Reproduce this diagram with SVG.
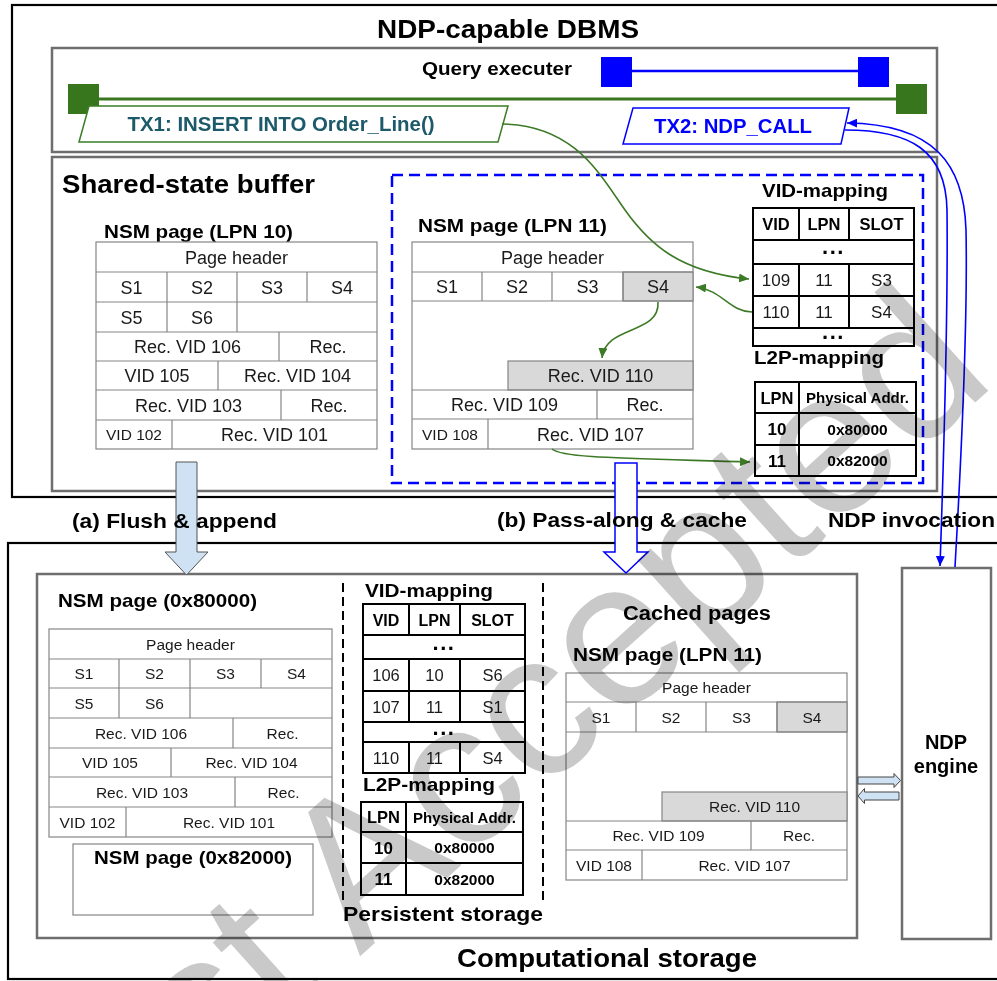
<svg xmlns="http://www.w3.org/2000/svg" width="997" height="981" viewBox="0 0 997 981">
  <defs>
    <style>
      text { font-family: "Liberation Sans", Arial, Helvetica, sans-serif; fill: #000; }
      .b { font-weight: bold; }
      .c { text-anchor: middle; }
      .cellt { fill: #1a1a1a; }
      .dots { font-weight: bold; text-anchor: middle; font-size: 22px; letter-spacing: 1.5px; }
      .frame { fill: none; stroke: #000; stroke-width: 2.2; }
      .panel { fill: none; stroke: #6e6e6e; stroke-width: 2.5; }
      .cell { fill: #fff; stroke: #858585; stroke-width: 1.2; }
      .hl { fill: #d9d9d9; stroke: #858585; stroke-width: 1.2; }
      .grid { fill: none; stroke: #858585; stroke-width: 1.2; }
      .map { fill: #fff; stroke: #000; stroke-width: 2; }
      .mapl { fill: none; stroke: #000; stroke-width: 2; }
      .sep { fill: none; stroke: #000; stroke-width: 2; stroke-dasharray: 9 5; }
      .green { fill: none; stroke: #3d7a26; stroke-width: 1.6; }
      .blue { fill: none; stroke: #0000ff; stroke-width: 1.6; }
      .mark { mix-blend-mode: multiply; }
    </style>
    <marker id="ah-green" markerUnits="userSpaceOnUse" markerWidth="11" markerHeight="9" refX="10" refY="4.5" orient="auto">
      <path d="M0,0 L10,4.5 L0,9 z" fill="#3d7a26"/>
    </marker>
    <marker id="ah-blue" markerUnits="userSpaceOnUse" markerWidth="11" markerHeight="9" refX="10" refY="4.5" orient="auto">
      <path d="M0,0 L10,4.5 L0,9 z" fill="#0000ff"/>
    </marker>
  </defs>

  <rect x="0" y="0" width="997" height="981" fill="#fff"/>

  <!-- DBMS host frame -->
  <g id="dbms">
    <rect class="frame" x="12" y="5" width="992" height="492"/>
    <text class="b c" x="508" y="38" font-size="25.5" textLength="262" lengthAdjust="spacingAndGlyphs">NDP-capable DBMS</text>
  </g>

  <!-- Query executer with the two transactions -->
  <g id="query-executer">
    <rect class="panel" x="52" y="48" width="885" height="104" fill="#fff"/>
    <text class="b c" x="497" y="75" font-size="18" textLength="150" lengthAdjust="spacingAndGlyphs">Query executer</text>
    <line x1="620" y1="71" x2="870" y2="71" stroke="#0000ff" stroke-width="2.5"/>
    <rect x="601" y="57" width="31" height="30" fill="#0000ff"/>
    <rect x="858" y="57" width="31" height="30" fill="#0000ff"/>
    <line x1="90" y1="99" x2="905" y2="99" stroke="#3a761f" stroke-width="3"/>
    <rect x="68" y="84" width="31" height="30" fill="#38761d"/>
    <rect x="896" y="84" width="31" height="30" fill="#38761d"/>
  </g>

  <g id="tx1">
    <polygon points="89,106 508,106 498,142 79,142" fill="#fff" stroke="#3a7d24" stroke-width="1.5"/>
    <text class="b c" x="281" y="131" font-size="20.5" style="fill:#1d5a69" textLength="307" lengthAdjust="spacingAndGlyphs">TX1: INSERT INTO Order_Line()</text>
  </g>

  <g id="tx2">
    <polygon points="633,108 849,108 841,144 623,144" fill="#fff" stroke="#0000ff" stroke-width="1.5"/>
    <text class="b c" x="733" y="133" font-size="20.5" style="fill:#0000ff" textLength="158" lengthAdjust="spacingAndGlyphs">TX2: NDP_CALL</text>
  </g>

  <!-- Shared-state buffer -->
  <g id="shared-state-buffer">
    <rect class="panel" x="52" y="157" width="885" height="334"/>
    <text class="b" x="62" y="193" font-size="25.5" textLength="253" lengthAdjust="spacingAndGlyphs">Shared-state buffer</text>
    <rect x="392" y="175" width="531" height="308" fill="none" stroke="#0000ff" stroke-width="2.5" stroke-dasharray="11 6"/>
  </g>

  <!-- NSM page LPN 10 (buffer) -->
  <g id="buf-page-lpn10">
    <text class="b" x="104" y="237.5" font-size="19" textLength="189" lengthAdjust="spacingAndGlyphs">NSM page (LPN 10)</text>
    <rect class="cell" x="96" y="242" width="281" height="207"/>
    <path class="grid" d="M96,272H377 M96,302H377 M96,332H377 M96,361H377 M96,390H377 M96,420H377 M167,272V332 M237,272V332 M307,272V302 M279,332V361 M218,361V390 M281,390V420 M172,420V449"/>
    <g font-size="18">
      <text class="cellt c" x="236.5" y="263.5">Page header</text>
      <text class="cellt c" x="131.5" y="293.5">S1</text>
      <text class="cellt c" x="202" y="293.5">S2</text>
      <text class="cellt c" x="272" y="293.5">S3</text>
      <text class="cellt c" x="342" y="293.5">S4</text>
      <text class="cellt c" x="131.5" y="323.5">S5</text>
      <text class="cellt c" x="202" y="323.5">S6</text>
      <text class="cellt c" x="187.5" y="353">Rec. VID 106</text>
      <text class="cellt c" x="328" y="353">Rec.</text>
      <text class="cellt c" x="157" y="382">VID 105</text>
      <text class="cellt c" x="297.5" y="382">Rec. VID 104</text>
      <text class="cellt c" x="188.5" y="411.5">Rec. VID 103</text>
      <text class="cellt c" x="329" y="411.5">Rec.</text>
      <text class="cellt c" x="134" y="440" font-size="15.5">VID 102</text>
      <text class="cellt c" x="274.5" y="441">Rec. VID 101</text>
    </g>
  </g>

  <!-- NSM page LPN 11 (buffer) -->
  <g id="buf-page-lpn11">
    <text class="b" x="418" y="232" font-size="19" textLength="189" lengthAdjust="spacingAndGlyphs">NSM page (LPN 11)</text>
    <rect class="cell" x="412" y="242" width="281" height="207"/>
    <rect class="hl" x="623" y="272" width="70" height="29"/>
    <rect class="hl" x="508" y="361" width="185" height="29"/>
    <path class="grid" d="M412,272H693 M412,301H693 M412,390H693 M412,419H693 M482,272V301 M552,272V301 M623,272V301 M597,390V419 M488,419V449"/>
    <g font-size="18">
      <text class="cellt c" x="552.5" y="263.5">Page header</text>
      <text class="cellt c" x="447" y="293">S1</text>
      <text class="cellt c" x="517" y="293">S2</text>
      <text class="cellt c" x="587.5" y="293">S3</text>
      <text class="cellt c" x="658" y="293">S4</text>
      <text class="cellt c" x="600.5" y="382">Rec. VID 110</text>
      <text class="cellt c" x="504.5" y="411">Rec. VID 109</text>
      <text class="cellt c" x="645" y="411">Rec.</text>
      <text class="cellt c" x="450" y="439.5" font-size="15.5">VID 108</text>
      <text class="cellt c" x="590.5" y="440.5">Rec. VID 107</text>
    </g>
  </g>

  <!-- VID mapping (buffer) -->
  <g id="buf-vid-mapping">
    <text class="b" x="762" y="197" font-size="19" textLength="126" lengthAdjust="spacingAndGlyphs">VID-mapping</text>
    <rect class="map" x="753" y="208" width="161" height="138"/>
    <path class="mapl" d="M753,240H914 M753,264H914 M753,296H914 M753,328H914 M799,208V240 M849,208V240 M799,264V328 M849,264V328"/>
    <g font-size="16.5">
      <text class="b c" x="776" y="230">VID</text>
      <text class="b c" x="824" y="230">LPN</text>
      <text class="b c" x="881.5" y="230">SLOT</text>
    </g>
    <text class="dots" x="833.5" y="254">...</text>
    <g font-size="17">
      <text class="cellt c" x="776" y="286">109</text>
      <text class="cellt c" x="824" y="286">11</text>
      <text class="cellt c" x="881.5" y="286">S3</text>
      <text class="cellt c" x="776" y="318">110</text>
      <text class="cellt c" x="824" y="318">11</text>
      <text class="cellt c" x="881.5" y="318">S4</text>
    </g>
    <text class="dots" x="833.5" y="339">...</text>
  </g>

  <!-- L2P mapping (buffer) -->
  <g id="buf-l2p-mapping">
    <text class="b" x="754" y="364" font-size="19" textLength="130" lengthAdjust="spacingAndGlyphs">L2P-mapping</text>
    <rect class="map" x="755" y="382" width="161" height="94"/>
    <path class="mapl" d="M755,413H916 M755,445H916 M799,382V476"/>
    <text class="b c" x="777" y="403.5" font-size="16.5">LPN</text>
    <text class="b c" x="857.5" y="403" font-size="15">Physical Addr.</text>
    <text class="b c" x="777" y="435" font-size="17">10</text>
    <text class="b c" x="857.5" y="434.5" font-size="15.5">0x80000</text>
    <text class="b c" x="777" y="466.5" font-size="17">11</text>
    <text class="b c" x="857.5" y="466" font-size="15.5">0x82000</text>
  </g>

  <!-- Computational storage frame -->
  <g id="computational-storage">
    <rect class="frame" x="8" y="543" width="996" height="436"/>
    <rect class="panel" x="37" y="574" width="820" height="364" stroke-width="2"/>
    <text class="b c" x="607" y="967" font-size="25.5" textLength="300" lengthAdjust="spacingAndGlyphs">Computational storage</text>
    <path class="sep" d="M343,583V903 M543,583V903"/>
    <text class="b" x="343" y="921" font-size="20.5" textLength="200" lengthAdjust="spacingAndGlyphs">Persistent storage</text>
  </g>

  <!-- Flushed NSM page 0x80000 -->
  <g id="ssd-page-0x80000">
    <text class="b" x="58" y="607" font-size="19" textLength="199" lengthAdjust="spacingAndGlyphs">NSM page (0x80000)</text>
    <rect class="cell" x="49" y="629" width="283" height="208"/>
    <path class="grid" d="M49,659H332 M49,688H332 M49,718H332 M49,748H332 M49,777H332 M49,807H332 M119,659V718 M190,659V718 M261,659V688 M233,718V748 M171,748V777 M235,777V807 M126,807V837"/>
    <g font-size="15.5">
      <text class="cellt c" x="190.5" y="649.5">Page header</text>
      <text class="cellt c" x="84" y="679">S1</text>
      <text class="cellt c" x="154.5" y="679">S2</text>
      <text class="cellt c" x="225.5" y="679">S3</text>
      <text class="cellt c" x="296.5" y="679">S4</text>
      <text class="cellt c" x="84" y="708.5">S5</text>
      <text class="cellt c" x="154.5" y="708.5">S6</text>
      <text class="cellt c" x="141" y="738.5">Rec. VID 106</text>
      <text class="cellt c" x="282.5" y="738.5">Rec.</text>
      <text class="cellt c" x="110" y="768">VID 105</text>
      <text class="cellt c" x="251.5" y="768">Rec. VID 104</text>
      <text class="cellt c" x="142" y="797.5">Rec. VID 103</text>
      <text class="cellt c" x="283.5" y="797.5">Rec.</text>
      <text class="cellt c" x="87.5" y="827.5">VID 102</text>
      <text class="cellt c" x="229" y="827.5">Rec. VID 101</text>
    </g>
  </g>

  <!-- NSM page 0x82000 -->
  <g id="ssd-page-0x82000">
    <rect class="cell" x="73" y="844" width="240" height="71"/>
    <text class="b c" x="193" y="864" font-size="19" textLength="198" lengthAdjust="spacingAndGlyphs">NSM page (0x82000)</text>
  </g>

  <!-- VID mapping (persistent) -->
  <g id="ssd-vid-mapping">
    <text class="b" x="365" y="597" font-size="19" textLength="128" lengthAdjust="spacingAndGlyphs">VID-mapping</text>
    <rect class="map" x="363" y="604" width="162" height="169"/>
    <path class="mapl" d="M363,635H525 M363,659H525 M363,691H525 M363,722H525 M363,742H525 M409,604V635 M460,604V635 M409,659V722 M460,659V722 M409,742V773 M460,742V773"/>
    <g font-size="16">
      <text class="b c" x="386" y="625.5">VID</text>
      <text class="b c" x="434.5" y="625.5">LPN</text>
      <text class="b c" x="492.5" y="625.5">SLOT</text>
    </g>
    <text class="dots" x="444" y="650">...</text>
    <g font-size="16.5">
      <text class="cellt c" x="386" y="681">106</text>
      <text class="cellt c" x="434.5" y="681">10</text>
      <text class="cellt c" x="492.5" y="681">S6</text>
      <text class="cellt c" x="386" y="712.5">107</text>
      <text class="cellt c" x="434.5" y="712.5">11</text>
      <text class="cellt c" x="492.5" y="712.5">S1</text>
      <text class="cellt c" x="386" y="763.5">110</text>
      <text class="cellt c" x="434.5" y="764">11</text>
      <text class="cellt c" x="492.5" y="763.5">S4</text>
    </g>
    <text class="dots" x="444" y="735">...</text>
  </g>

  <!-- L2P mapping (persistent) -->
  <g id="ssd-l2p-mapping">
    <text class="b" x="363" y="791" font-size="19" textLength="132" lengthAdjust="spacingAndGlyphs">L2P-mapping</text>
    <rect class="map" x="361" y="802" width="162" height="93"/>
    <path class="mapl" d="M361,832H523 M361,863H523 M406,802V895"/>
    <text class="b c" x="383.5" y="823" font-size="16.5">LPN</text>
    <text class="b c" x="464.5" y="822.5" font-size="15">Physical Addr.</text>
    <text class="b c" x="383.5" y="853.5" font-size="17">10</text>
    <text class="b c" x="464.5" y="853" font-size="15.5">0x80000</text>
    <text class="b c" x="383.5" y="885" font-size="17">11</text>
    <text class="b c" x="464.5" y="884.5" font-size="15.5">0x82000</text>
  </g>

  <!-- Cached page LPN 11 -->
  <g id="cached-page-lpn11">
    <text class="b" x="623" y="620" font-size="20" textLength="148" lengthAdjust="spacingAndGlyphs">Cached pages</text>
    <text class="b" x="573" y="661" font-size="19" textLength="189" lengthAdjust="spacingAndGlyphs">NSM page (LPN 11)</text>
    <rect class="cell" x="566" y="673" width="281" height="207"/>
    <rect class="hl" x="777" y="702" width="70" height="30"/>
    <rect class="hl" x="662" y="792" width="185" height="29"/>
    <path class="grid" d="M566,702H847 M566,732H847 M566,821H847 M566,850H847 M636,702V732 M706,702V732 M777,702V732 M751,821V850 M642,850V880"/>
    <g font-size="15.5">
      <text class="cellt c" x="706.5" y="693">Page header</text>
      <text class="cellt c" x="601" y="722.5">S1</text>
      <text class="cellt c" x="671" y="722.5">S2</text>
      <text class="cellt c" x="741.5" y="722.5">S3</text>
      <text class="cellt c" x="812" y="722.5">S4</text>
      <text class="cellt c" x="754.5" y="812">Rec. VID 110</text>
      <text class="cellt c" x="658.5" y="841">Rec. VID 109</text>
      <text class="cellt c" x="799" y="841">Rec.</text>
      <text class="cellt c" x="604" y="870.5">VID 108</text>
      <text class="cellt c" x="744.5" y="870.5">Rec. VID 107</text>
    </g>
  </g>

  <!-- NDP engine -->
  <g id="ndp-engine">
    <rect class="panel" x="902" y="568" width="89" height="371" stroke-width="2" fill="#fff"/>
    <text class="b c" x="946" y="749" font-size="20">NDP</text>
    <text class="b c" x="946" y="773" font-size="20">engine</text>
  </g>

  <!-- Connectors -->
  <g id="connectors">
    <path class="green" d="M502,124 C575,125 600,175 625,210 C650,245 680,272 749,279" marker-end="url(#ah-green)"/>
    <path class="green" d="M752,312 C730,312 722,290 696,287" marker-end="url(#ah-green)"/>
    <path class="green" d="M658,302 C660,335 605,325 602,358" marker-end="url(#ah-green)"/>
    <path class="green" d="M552,449 C562,458 620,458 750,462" marker-end="url(#ah-green)"/>

    <path class="blue" d="M955,567 C960,480 968,330 966,230 C964,165 935,124 847,123" marker-end="url(#ah-blue)"/>
    <path class="blue" d="M845,130 C910,130 946,150 947,210 C948,300 944,450 940,566" marker-end="url(#ah-blue)"/>

    <polygon points="176,462 197,462 197,552 208,552 186.5,575 165,552 176,552" fill="#cfe2f3" stroke="#555" stroke-width="1"/>
    <polygon points="615,463 637,463 637,552 648,552 626,573 604,552 615,552" fill="#fff" stroke="#0000ff" stroke-width="1.5"/>

    <polygon points="858,777 894,777 894,773.5 900.5,780.5 894,787.5 894,784 858,784" fill="#cfe2f3" stroke="#444" stroke-width="1"/>
    <polygon points="899,792 864.5,792 864.5,788.5 858,796 864.5,803.5 864.5,800 899,800" fill="#cfe2f3" stroke="#444" stroke-width="1"/>
  </g>

  <!-- Movement labels -->
  <g id="labels">
    <text class="b" x="72" y="528" font-size="21" textLength="205" lengthAdjust="spacingAndGlyphs">(a) Flush &amp; append</text>
    <text class="b" x="497" y="527" font-size="21" textLength="250" lengthAdjust="spacingAndGlyphs">(b) Pass-along &amp; cache</text>
    <text class="b" x="828" y="527" font-size="21" textLength="167" lengthAdjust="spacingAndGlyphs">NDP invocation</text>
  </g>

  <!-- Diagonal stamp -->
  <g id="stamp" class="mark">
    <text x="45" y="1240" font-size="206" transform="rotate(-42 45 1240)" style="fill:#c9c9c9">Just Accepted</text>
  </g>
</svg>
